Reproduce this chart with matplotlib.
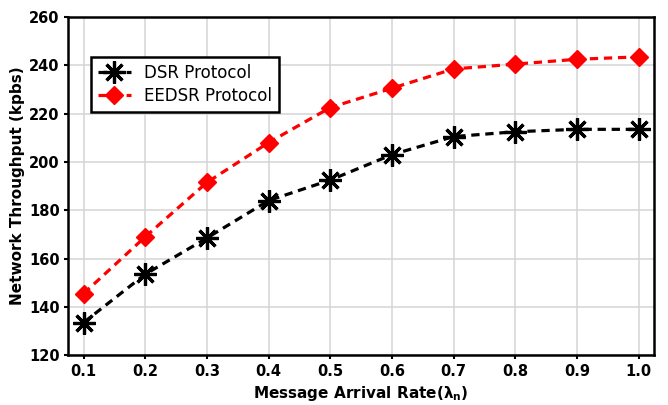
import matplotlib
matplotlib.use("Agg")
import matplotlib.pyplot as plt

rates = [0.1, 0.2, 0.3, 0.4, 0.5, 0.6, 0.7, 0.8, 0.9, 1.0]
dsr = [133.5, 153.5, 168.5, 184, 192.5, 203, 210.5, 212.5, 213.5, 213.5]
eedsr = [145.5, 169, 191.5, 208, 222.5, 230.5, 238.5, 240.5, 242.5, 243.5]
y_ticks = [120, 140, 160, 180, 200, 220, 240, 260]

fig = plt.figure(figsize=(6.68, 4.05), dpi=100)
ax = fig.add_axes([0.102, 0.123, 0.877, 0.835])

ax.plot(rates, dsr, color="black", linestyle="--", linewidth=2.3,
        marker=(8, 2, 0), markersize=16, markeredgewidth=2.3,
        label="DSR Protocol", dashes=(2.6, 1.8))
ax.plot(rates, eedsr, color="red", linestyle="--", linewidth=2.3,
        marker="D", markersize=9, label="EEDSR Protocol", dashes=(2.6, 1.8))

ax.set_xlim(0.075, 1.025)
ax.set_ylim(120, 260)
ax.set_xticks(rates)
ax.set_xticklabels(["%.1f" % r for r in rates])
ax.set_yticks(y_ticks)
ax.grid(True, color="#d4d4d4", linewidth=1.1)
ax.set_axisbelow(True)

for s in ax.spines.values():
    s.set_linewidth(1.8)
ax.tick_params(width=1.5, length=3, pad=3)
for lab in ax.get_xticklabels() + ax.get_yticklabels():
    lab.set_fontweight("bold")
    lab.set_fontsize(10.5)

ax.set_xlabel(r"Message Arrival Rate($\mathbf{\lambda_n}$)", fontsize=11, fontweight="bold", labelpad=4)
ax.set_ylabel("Network Throughput (kpbs)", fontsize=11, fontweight="bold", labelpad=3)

leg = ax.legend(loc="upper left", bbox_to_anchor=(0.025, 0.905), fontsize=12,
                fancybox=False, framealpha=1, edgecolor="black",
                handlelength=2.0, borderpad=0.4, labelspacing=0.3)
leg.get_frame().set_linewidth(1.8)

fig.savefig("out.png", dpi=100)
